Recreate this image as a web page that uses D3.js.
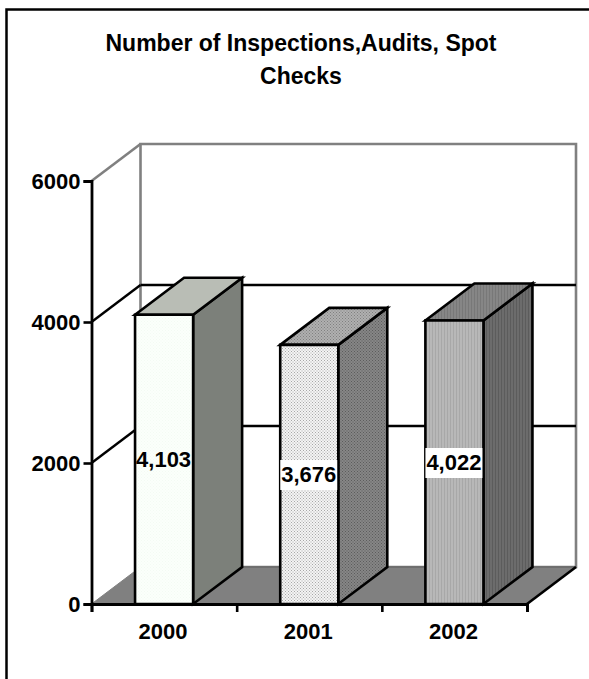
<!DOCTYPE html>
<html><head><meta charset="utf-8">
<script src="https://cdn.jsdelivr.net/npm/d3@7"></script>
<style>html,body{margin:0;padding:0;background:#fff}svg{display:block}text{font-family:"Liberation Sans",Arial,sans-serif;font-weight:bold;fill:#000}</style>
</head><body><script>
const categories = ["2000", "2001", "2002"];
const values = [4103, 3676, 4022];
const valueLabels = ["4,103", "3,676", "4,022"];
const yTicks = [0, 2000, 4000, 6000];
const titleLines = ["Number of Inspections,Audits, Spot", "Checks"];

const W = 589, H = 679, dx = 49, dy = -37;
const x = d3.scaleBand().domain(categories).range([91.5, 527]).paddingInner(0.6).paddingOuter(0.3);
const y = d3.scaleLinear().domain([0, 6000]).range([604, 181]);
const svg = d3.select("body").append("svg").attr("width", W).attr("height", H);
const defs = svg.append("defs");

function dots(id, a, b) {
  const p = defs.append("pattern").attr("id", id).attr("width", 3).attr("height", 3).attr("patternUnits", "userSpaceOnUse");
  p.append("rect").attr("width", 3).attr("height", 3).attr("fill", a);
  p.append("rect").attr("width", 1).attr("height", 1).attr("fill", b);
  p.append("rect").attr("x", 1.5).attr("y", 1.5).attr("width", 1).attr("height", 1).attr("fill", b);
}
function stripes(id, a, b) {
  const p = defs.append("pattern").attr("id", id).attr("width", 3).attr("height", 3).attr("patternUnits", "userSpaceOnUse");
  p.append("rect").attr("width", 3).attr("height", 3).attr("fill", a);
  p.append("rect").attr("width", 1).attr("height", 3).attr("fill", b);
}
dots("f1", "#fbfffb", "#f3fbf3"); dots("t1", "#b9bdb5", "#b9bdb5"); dots("s1", "#7c807a", "#7c807a");
dots("f2", "#f4f4f4", "#a8a8a8"); dots("t2", "#b0b0b0", "#808080"); dots("s2", "#868686", "#5c5c5c");
stripes("f3", "#b8b8b8", "#a8a8a8"); stripes("t3", "#868686", "#787878"); stripes("s3", "#6c6c6c", "#5c5c5c");

const poly = (pts, fill, stroke, sw) => svg.append("polygon")
  .attr("points", pts.map(p => p.join(",")).join(" "))
  .attr("fill", fill).attr("stroke", stroke).attr("stroke-width", sw).attr("stroke-linejoin", "miter");
const line = (a, b, c, sw) => svg.append("line").attr("x1", a[0]).attr("y1", a[1]).attr("x2", b[0]).attr("y2", b[1]).attr("stroke", c).attr("stroke-width", sw);

// frame (only left and top edges fall inside the picture)
svg.append("path").attr("d", `M6.5,${H} V9.5 H${W}`).attr("fill", "none").attr("stroke", "#000").attr("stroke-width", 2.5);

const x0 = x.range()[0], x1 = x.range()[1], y0 = y(0);
// back wall, side wall, floor
poly([[x0 + dx, y(6000) + dy], [x1 + dx, y(6000) + dy], [x1 + dx, y0 + dy], [x0 + dx, y0 + dy]], "#fff", "#808080", 2.6);
line([x0, y(6000)], [x0 + dx, y(6000) + dy], "#808080", 2.6);
poly([[x0, y0], [x1, y0], [x1 + dx, y0 + dy], [x0 + dx, y0 + dy]], "#808080", "#808080", 1);
line([x0 + dx, y0 + dy], [x1 + dx, y0 + dy], "#6e6e6e", 2);
// gridlines
[2000, 4000].forEach(v => {
  line([x0, y(v)], [x0 + dx, y(v) + dy], "#000", 2.4);
  line([x0 + dx, y(v) + dy], [x1 + dx, y(v) + dy], "#000", 2.4);
});
// floor front-right edge
line([x1, y0], [x1 + dx, y0 + dy], "#000", 2.6);

// bars
categories.forEach((c, i) => {
  const l = x(c), r = l + x.bandwidth(), t = y(values[i]), n = i + 1;
  poly([[r, t], [r + dx, t + dy], [r + dx, y0 + dy], [r, y0]], `url(#s${n})`, "#000", 2.6);
  poly([[l, t], [l + dx, t + dy], [r + dx, t + dy], [r, t]], `url(#t${n})`, "#000", 2.6);
  poly([[l, t], [r, t], [r, y0], [l, y0]], `url(#f${n})`, "#000", 2.6);
});

// axes
const yAxis = d3.axisLeft(y).tickValues(yTicks).tickFormat(d3.format("d")).tickSize(8).tickPadding(3);
const xTickScale = d3.scalePoint().domain(d3.range(categories.length + 1)).range([x0, x1]);
const gy = svg.append("g").attr("transform", `translate(${x0},0)`).call(yAxis);
const gx = svg.append("g").attr("transform", `translate(0,${y0})`).call(d3.axisBottom(xTickScale).tickSize(8).tickFormat(""));
[gy, gx].forEach(g => {
  g.selectAll("path").attr("stroke", "#000").attr("stroke-width", 2.8);
  g.selectAll("line").attr("stroke", "#000").attr("stroke-width", 2.6);
  g.attr("font-family", null).attr("font-size", null);
});
gy.selectAll("text").style("font-size", "22px").attr("dy", "0.36em");

svg.selectAll(".cat").data(categories).join("text").attr("class", "cat")
  .attr("x", d => x(d) + x.bandwidth() / 2 - 1).attr("y", 639).attr("text-anchor", "middle").style("font-size", "22px").text(d => d);

// value labels
const labelBaselines = [467, 482, 470];
categories.forEach((c, i) => {
  const cx = x(c) + x.bandwidth() / 2;
  const b = labelBaselines[i];
  if (i > 0) svg.append("rect").attr("x", cx - 29).attr("y", b - 22).attr("width", 57).attr("height", 30).attr("fill", "#fff");
  svg.append("text").attr("x", cx - 0.5).attr("y", b).attr("text-anchor", "middle").style("font-size", "22px").text(valueLabels[i]);
});

// title
svg.selectAll(".title").data(titleLines).join("text").attr("class", "title")
  .attr("x", 301).attr("y", (d, i) => 51 + i * 33).attr("text-anchor", "middle").style("font-size", "23px").text(d => d);
</script></body></html>
